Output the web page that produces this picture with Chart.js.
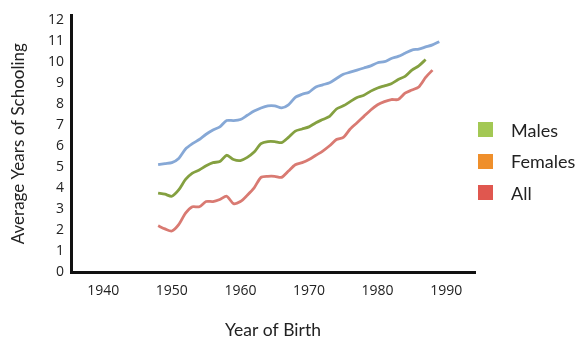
<!DOCTYPE html>
<html>
<head>
<meta charset="utf-8">
<script src="https://cdn.jsdelivr.net/npm/chart.js@4.4.1/dist/chart.umd.min.js"></script>
<style>
  html, body { margin: 0; padding: 0; background: #fff; }
  #wrap { position: relative; width: 578px; height: 343px; }
  #leyenda { position: absolute; left: 478px; top: 114px; margin: 0; padding: 0; list-style: none;
    font-family: Lato, "Open Sans", sans-serif; font-size: 18px; color: #222; }
  #leyenda li { height: 31.5px; display: flex; align-items: center; }
  #leyenda span.caja { width: 15px; height: 15px; display: inline-block; margin-right: 18px; }
</style>
</head>
<body>
<div id="wrap">
  <canvas id="myChart" width="578" height="343"></canvas>
  <ul id="leyenda"></ul>
</div>
<script>
// Datos: años de escolaridad promedio por año de nacimiento

const anios = [1948, 1949, 1950, 1951, 1952, 1953, 1954, 1955, 1956, 1957,
  1958, 1959, 1960, 1961, 1962, 1963, 1964, 1965, 1966, 1967,
  1968, 1969, 1970, 1971, 1972, 1973, 1974, 1975, 1976, 1977,
  1978, 1979, 1980, 1981, 1982, 1983, 1984, 1985, 1986, 1987,
  1988, 1989];

const serieAzul = [5.1, 5.15, 5.2, 5.4, 5.85, 6.1, 6.3, 6.55, 6.75, 6.9,
  7.2, 7.2, 7.25, 7.45, 7.65, 7.8, 7.9, 7.9, 7.8, 7.95,
  8.3, 8.45, 8.55, 8.8, 8.9, 9.0, 9.2, 9.4, 9.5, 9.6,
  9.7, 9.8, 9.95, 10.0, 10.15, 10.25, 10.4, 10.55, 10.6, 10.7,
  10.8, 10.95];

const serieVerde = [3.75, 3.7, 3.6, 3.9, 4.4, 4.7, 4.85, 5.05, 5.2, 5.25,
  5.55, 5.35, 5.3, 5.45, 5.7, 6.1, 6.2, 6.2, 6.15, 6.4,
  6.7, 6.8, 6.9, 7.1, 7.25, 7.4, 7.75, 7.9, 8.1, 8.3,
  8.4, 8.6, 8.75, 8.85, 8.95, 9.15, 9.3, 9.6, 9.8, 10.1];

const serieRoja = [2.2, 2.05, 1.95, 2.25, 2.8, 3.1, 3.1, 3.35, 3.35, 3.45,
  3.6, 3.25, 3.35, 3.65, 4.0, 4.5, 4.55, 4.55, 4.5, 4.8,
  5.1, 5.2, 5.35, 5.55, 5.75, 6.0, 6.3, 6.4, 6.8, 7.1,
  7.4, 7.7, 7.95, 8.1, 8.2, 8.2, 8.5, 8.65, 8.8, 9.25,
  9.6];

const ticksX = [1940, 1950, 1960, 1970, 1980, 1990];
const ticksY = [0, 1, 2, 3, 4, 5, 6, 7, 8, 9, 10, 11, 12];

const leyendaNombres = ['Males', 'Females', 'All'];
const leyendaColores = ['#a3c854', '#ef8f2b', '#e0574f'];

// Armar puntos {x, y}
function puntos(valores) {
  return valores.map((v, i) => ({ x: anios[i], y: v }));
}

const fuente = 'Lato, "Open Sans", sans-serif';
const fuenteTicks = '"Open Sans", "Noto Sans", sans-serif';

const ctx = document.getElementById('myChart').getContext('2d');
const config = {
  type: 'line',
  data: {
    datasets: [
      { label: 'Serie 1', data: puntos(serieAzul), borderColor: '#86a8d6' },
      { label: 'Serie 2', data: puntos(serieVerde), borderColor: '#84a040' },
      { label: 'Serie 3', data: puntos(serieRoja), borderColor: '#d97a72' }
    ]
  },
  options: {
    responsive: false,
    animation: false,
    layout: { padding: { top: 12, right: 103, left: 0, bottom: 0 } },
    elements: {
      line: { borderWidth: 2.8, tension: 0.25, capBezierPoints: true },
      point: { radius: 0 }
    },
    plugins: { legend: { display: false }, tooltip: { enabled: false } },
    scales: {
      x: {
        type: 'linear',
        min: 1935.3,
        max: 1994.2,
        afterBuildTicks: (s) => { s.ticks = ticksX.map(v => ({ value: v })); },
        afterFit: (s) => { s.height = 71; },
        grid: { display: false, drawTicks: false },
        border: { display: true, color: '#111', width: 3 },
        ticks: {
          padding: 11,
          color: '#222',
          font: { family: fuenteTicks, size: 14 },
          callback: (v) => String(v)
        },
        title: {
          display: true,
          text: 'Year of Birth',
          color: '#222',
          font: { family: fuente, size: 17.5 },
          padding: { top: 0, bottom: 2 }
        }
      },
      y: {
        min: 0,
        max: 12.2,
        afterBuildTicks: (s) => { s.ticks = ticksY.map(v => ({ value: v })); },
        afterFit: (s) => { s.width = 71; },
        grid: { display: false, drawTicks: false },
        border: { display: true, color: '#111', width: 3 },
        ticks: {
          padding: 7,
          color: '#222',
          font: { family: fuenteTicks, size: 14 }
        },
        title: {
          display: true,
          text: 'Average Years of Schooling',
          color: '#222',
          font: { family: fuente, size: 17 },
          padding: { top: 8, bottom: 0 }
        }
      }
    }
  }
};
const myChart = new Chart(ctx, config);

// Leyenda en HTML
const listaLeyenda = document.querySelector('#leyenda');
const fragment = document.createDocumentFragment();
leyendaNombres.forEach((nombre, i) => {
  const li = document.createElement('li');
  li.innerHTML = `<span class="caja" style="background:${leyendaColores[i]}"></span>${nombre}`;
  fragment.appendChild(li);
});
listaLeyenda.appendChild(fragment);
</script>
</body>
</html>
